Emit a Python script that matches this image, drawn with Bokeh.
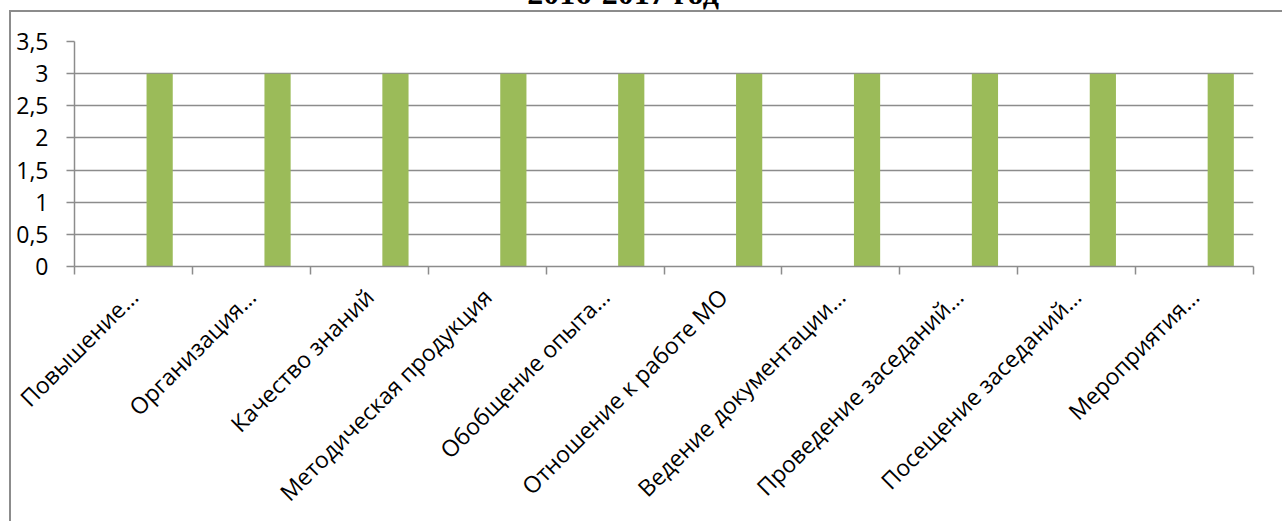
import math
from bokeh.plotting import figure
from bokeh.models import Range1d, FixedTicker, ColumnDataSource, Div
from bokeh.layouts import column
from bokeh.transform import dodge
from bokeh.embed import file_html
from bokeh.resources import INLINE

title_text = "2016-2017 год"
categories = ["Повышение…", "Организация…", "Качество знаний", "Методическая продукция",
              "Обобщение опыта…", "Отношение к работе МО", "Ведение документации…",
              "Проведение заседаний…", "Посещение заседаний…", "Мероприятия…"]
values = [3, 3, 3, 3, 3, 3, 3, 3, 3, 3]
y_ticks = [0, 0.5, 1, 1.5, 2, 2.5, 3, 3.5]
y_tick_labels = ["0", "0,5", "1", "1,5", "2", "2,5", "3", "3,5"]

W, H = 1282, 521
MB_L, MB_R, MB_T, MB_B = 74, 29, 41, 249
GRAY = "#8c8c8c"
BAR = "#9BBB59"
FONT = "Open Sans"

pos = [i + 0.5 for i in range(len(categories))]
src = ColumnDataSource(dict(x=pos, top=values, cat=categories))

p = figure(width=W, height=H, output_backend="svg", toolbar_location=None,
           x_range=Range1d(0, len(categories)), y_range=Range1d(0, 3.5),
           min_border_left=MB_L, min_border_right=MB_R, min_border_top=MB_T,
           min_border_bottom=MB_B)
p.margin = 0
p.border_fill_color = None
p.background_fill_color = "white"
p.outline_line_color = None
p.styles = {
    "background-image": f"linear-gradient({GRAY},{GRAY}), linear-gradient({GRAY},{GRAY})",
    "background-position": "9px 10px, 9px 10px",
    "background-size": "100% 2px, 2px 100%",
    "background-repeat": "no-repeat",
}

bw = 1 / 4.5
p.vbar(x=dodge("x", bw, range=p.x_range), top="top", width=bw, source=src,
       fill_color=BAR, line_color=None)

# x axis
xa = p.xaxis[0]
xa.ticker = FixedTicker(ticks=pos, minor_ticks=list(range(len(categories) + 1)))
xa.major_label_overrides = {x: c for x, c in zip(pos, categories)}
xa.major_label_orientation = math.pi / 4
xa.major_tick_line_color = None
xa.major_tick_out = 0
xa.major_tick_in = 0
xa.minor_tick_line_color = GRAY
xa.minor_tick_line_width = 1.5
xa.minor_tick_out = 8
xa.minor_tick_in = 0
xa.axis_line_color = GRAY
xa.axis_line_width = 1.5
xa.major_label_text_font = FONT
xa.major_label_text_font_size = "23px"
xa.major_label_text_color = "black"
xa.major_label_standoff = 18

# y axis
ya = p.yaxis[0]
ya.ticker = FixedTicker(ticks=y_ticks)
ya.major_label_overrides = {t: l for t, l in zip(y_ticks, y_tick_labels)}
ya.major_tick_line_color = GRAY
ya.major_tick_line_width = 1.5
ya.major_tick_out = 8
ya.major_tick_in = 0
ya.minor_tick_line_color = None
ya.axis_line_color = GRAY
ya.axis_line_width = 1.5
ya.major_label_text_font = FONT
ya.major_label_text_font_size = "23px"
ya.major_label_text_color = "black"
ya.major_label_standoff = 18

p.xgrid.grid_line_color = None
p.ygrid.grid_line_color = GRAY
p.ygrid.grid_line_width = 1.5

# title (cut off at the top edge, as in the reference)
title = Div(text=title_text, width=2 * 623, height=0, margin=0,
            styles={"font-family": "Liberation Serif", "font-weight": "bold",
                    "font-size": "32px", "line-height": "32px", "text-align": "center",
                    "color": "black", "overflow": "visible", "white-space": "nowrap",
                    "transform": "translateY(-23px)", "z-index": "2"})

layout = column(title, p, spacing=0, margin=0)

open("out.html", "w").write(file_html(layout, INLINE))
